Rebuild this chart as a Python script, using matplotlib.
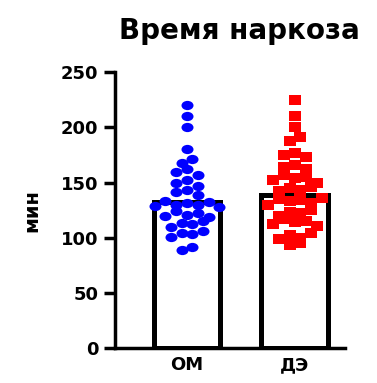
import numpy as np
import matplotlib.pyplot as plt
from matplotlib.path import Path

groups = ['ОМ', 'ДЭ']
means = [132, 139]
om = [220, 210, 200, 180, 171, 168, 162, 160, 157, 152, 150, 147, 143, 141,
      139, 133, 132, 131, 130, 130, 129, 128, 124, 122, 121, 120, 119, 115,
      113, 112, 110, 106, 104, 103, 101, 92, 89]
de = [225, 210, 200, 191, 188, 177, 175, 173, 166, 164, 162, 157, 155, 154,
      152, 150, 146, 145, 143, 142, 136, 135, 134, 133, 131, 130, 125, 123,
      122, 120, 117, 115, 114, 112, 111, 104, 102, 100, 99, 95, 93]
colors = ['#0000ff', '#ff0000']

plt.rcParams['font.family'] = ['DejaVu Sans']
plt.rcParams['font.weight'] = 'bold'


def spread(values, center, step, dx):
    # точки одного ряда раскладываются по горизонтали вокруг центра
    vals = np.asarray(values, dtype=float)
    keys = np.round((vals - center) / step)
    offs = np.zeros(len(vals))
    for k in np.unique(keys):
        idx = np.where(keys == k)[0]
        n = len(idx)
        order = np.argsort(np.abs(np.arange(n) - (n - 1) / 2) * (-1) ** np.arange(n))
        pos = (np.arange(n) - (n - 1) / 2) * dx
        offs[idx] = pos[order]
    return offs


circ = Path.unit_circle()
ell = Path(circ.vertices * [1.3, 1.0], circ.codes)
sq = Path([(-1.3, -1), (1.3, -1), (1.3, 1), (-1.3, 1), (-1.3, -1)],
          [Path.MOVETO, Path.LINETO, Path.LINETO, Path.LINETO, Path.CLOSEPOLY])
markers = [ell, sq]
centers = [131, 133]
steps = [9.5, 10]

fig = plt.figure(figsize=(3.77, 3.83), dpi=100)
ax = fig.add_axes([0.305, 0.0914, 0.61, 0.72])

ax.bar([0, 1], means, width=0.62, color='white', edgecolor='black',
       linewidth=3.6, zorder=1)

for i, vals in enumerate([om, de]):
    xo = spread(vals, centers[i], steps[i], 0.1)
    ax.scatter(i + xo, vals, s=75, marker=markers[i], color=colors[i],
               linewidths=0, zorder=2)

ax.set_xlim(-0.667, 1.463)
ax.set_ylim(0, 250)
ax.set_yticks([0, 50, 100, 150, 200, 250])
ax.set_xticks([0, 1])
ax.set_xticklabels(groups)
ax.spines['top'].set_visible(False)
ax.spines['right'].set_visible(False)
ax.spines['left'].set_linewidth(2.5)
ax.spines['bottom'].set_linewidth(2.5)
ax.tick_params(axis='y', length=8, width=2.5, labelsize=13, pad=4)
ax.tick_params(axis='x', length=0, labelsize=13, pad=6)
ax.set_ylabel('мин', fontsize=14, fontweight='bold', labelpad=14)
ax.set_title('Время наркоза', fontsize=20, fontweight='bold', pad=24, x=0.54)

fig.savefig('out.png', dpi=100)
plt.close()
